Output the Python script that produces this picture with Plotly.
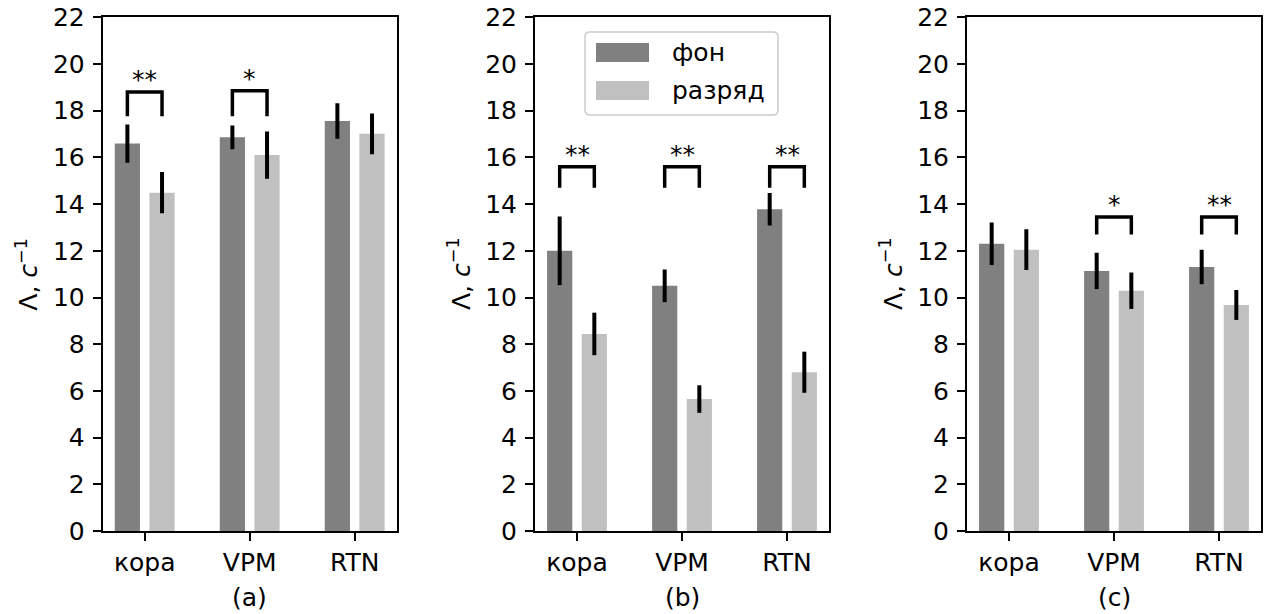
import plotly.graph_objects as go

# ---- data -------------------------------------------------------------
categories = ["кора", "VPM", "RTN"]
panel_labels = ["(a)", "(b)", "(c)"]
series_names = ["фон", "разряд"]

# background (фон) means and errors per panel
fon_a = [16.59, 16.86, 17.56]
fon_a_err = [0.82, 0.51, 0.76]
fon_b = [12.00, 10.50, 13.78]
fon_b_err = [1.47, 0.70, 0.70]
fon_c = [12.30, 11.14, 11.31]
fon_c_err = [0.91, 0.78, 0.74]

# discharge (разряд) means and errors per panel
razr_a = [14.49, 16.10, 17.01]
razr_a_err = [0.88, 1.01, 0.87]
razr_b = [8.44, 5.65, 6.80]
razr_b_err = [0.91, 0.59, 0.88]
razr_c = [12.05, 10.29, 9.68]
razr_c_err = [0.87, 0.78, 0.64]

# significance brackets: (category index, bracket top, leg bottom, stars)
sig_a = [(0, 18.80, 17.76, "**"), (1, 18.85, 17.76, "*")]
sig_b = [(0, 15.60, 14.70, "**"), (1, 15.60, 14.70, "**"), (2, 15.60, 14.70, "**")]
sig_c = [(1, 13.45, 12.70, "*"), (2, 13.45, 12.70, "**")]

y_ticks = list(range(0, 23, 2))

# ---- styling ----------------------------------------------------------
W, H = 1272, 614
FONT = "DejaVu Sans"
FS = 25
DARK = "#808080"
LIGHT = "#c0c0c0"
BAR_W = 0.24
OFF = 0.165


def xp(px):
    return px / W


def yp(py):
    return 1 - py / H


panels = [
    (fon_a, fon_a_err, razr_a, razr_a_err, sig_a),
    (fon_b, fon_b_err, razr_b, razr_b_err, sig_b),
    (fon_c, fon_c_err, razr_c, razr_c_err, sig_c),
]
x_domains = [(102.7, 396.7), (535.0, 829.0), (967.0, 1261.0)]
y_dom = (yp(531.0), yp(17.3))

fig = go.Figure()
annotations = []
shapes = []

for k, (fon, fon_err, razr, razr_err, sig) in enumerate(panels):
    xa = "x" if k == 0 else f"x{k+1}"
    ya = "y" if k == 0 else f"y{k+1}"
    idx = list(range(len(categories)))

    fig.add_trace(go.Bar(
        x=[i - OFF for i in idx], y=fon, width=BAR_W, name=series_names[0],
        marker=dict(color=DARK, line=dict(width=0)),
        error_y=dict(type="data", array=fon_err, color="black", thickness=4, width=0),
        xaxis=xa, yaxis=ya, showlegend=False, hoverinfo="skip",
    ))
    fig.add_trace(go.Bar(
        x=[i + OFF for i in idx], y=razr, width=BAR_W, name=series_names[1],
        marker=dict(color=LIGHT, line=dict(width=0)),
        error_y=dict(type="data", array=razr_err, color="black", thickness=4, width=0),
        xaxis=xa, yaxis=ya, showlegend=False, hoverinfo="skip",
    ))

    for (ci, top, bottom, stars) in sig:
        fig.add_trace(go.Scatter(
            x=[ci - OFF, ci - OFF, ci + OFF, ci + OFF],
            y=[bottom, top, top, bottom],
            mode="lines", line=dict(color="black", width=3.5),
            xaxis=xa, yaxis=ya, showlegend=False, hoverinfo="skip",
        ))
        annotations.append(dict(
            x=ci, y=top, xref=xa, yref=ya, text=stars, showarrow=False,
            xanchor="center", yanchor="bottom", yshift=-4,
            font=dict(family=FONT, size=FS, color="black"),
        ))

    x0, x1 = x_domains[k]
    axis_common = dict(
        showline=True, linecolor="black", linewidth=2, mirror=True,
        ticks="outside", ticklen=8, tickwidth=2, tickcolor="black",
        showgrid=False, zeroline=False, automargin=False,
        tickfont=dict(family=FONT, size=FS, color="black"),
    )
    fig.update_layout(**{
        ("xaxis" if k == 0 else f"xaxis{k+1}"): dict(
            domain=[xp(x0), xp(x1)], range=[-0.40, 2.40],
            tickvals=idx, ticktext=categories, anchor=ya,
            ticklabelstandoff=0, **axis_common),
        ("yaxis" if k == 0 else f"yaxis{k+1}"): dict(
            domain=list(y_dom), range=[0, 22], tickvals=y_ticks,
            anchor=xa, ticklabelstandoff=3, **axis_common),
    })

    # panel label under the axis and the y title
    annotations.append(dict(
        x=xp((x0 + x1) / 2), y=yp(597), xref="paper", yref="paper",
        text=panel_labels[k], showarrow=False, xanchor="center", yanchor="middle",
        font=dict(family=FONT, size=FS, color="black"),
    ))
    annotations.append(dict(
        x=xp(x0 - 76), y=yp(274), xref="paper", yref="paper",
        text="Λ, <i>c</i><sup>−1</sup>", showarrow=False, textangle=-90,
        xanchor="center", yanchor="middle",
        font=dict(family=FONT, size=FS, color="black"),
    ))

# legend drawn inside panel (b)
lx0, lx1, ly0, ly1 = 585, 778, 32, 115
r = 5
path = (
    f"M {xp(lx0 + r)} {yp(ly0)} L {xp(lx1 - r)} {yp(ly0)} "
    f"Q {xp(lx1)} {yp(ly0)} {xp(lx1)} {yp(ly0 + r)} "
    f"L {xp(lx1)} {yp(ly1 - r)} Q {xp(lx1)} {yp(ly1)} {xp(lx1 - r)} {yp(ly1)} "
    f"L {xp(lx0 + r)} {yp(ly1)} Q {xp(lx0)} {yp(ly1)} {xp(lx0)} {yp(ly1 - r)} "
    f"L {xp(lx0)} {yp(ly0 + r)} Q {xp(lx0)} {yp(ly0)} {xp(lx0 + r)} {yp(ly0)} Z"
)
shapes.append(dict(type="path", path=path, xref="paper", yref="paper",
                   line=dict(color="#cccccc", width=1.5), fillcolor="rgba(255,255,255,0.8)"))
for j, (col, yc) in enumerate([(DARK, 52.5), (LIGHT, 90.5)]):
    shapes.append(dict(type="rect", xref="paper", yref="paper",
                       x0=xp(596), x1=xp(649), y0=yp(yc - 9.5), y1=yp(yc + 9.5),
                       line=dict(width=0), fillcolor=col))
    annotations.append(dict(
        x=xp(670), y=yp(yc), xref="paper", yref="paper", text=series_names[j],
        showarrow=False, xanchor="left", yanchor="middle",
        font=dict(family=FONT, size=FS, color="black"),
    ))

fig.update_layout(
    width=W, height=H, margin=dict(l=0, r=0, t=0, b=0, autoexpand=False),
    paper_bgcolor="white", plot_bgcolor="white",
    barmode="overlay", showlegend=False,
    annotations=annotations, shapes=shapes,
    font=dict(family=FONT, size=FS, color="black"),
)

fig.write_html("out.html")
